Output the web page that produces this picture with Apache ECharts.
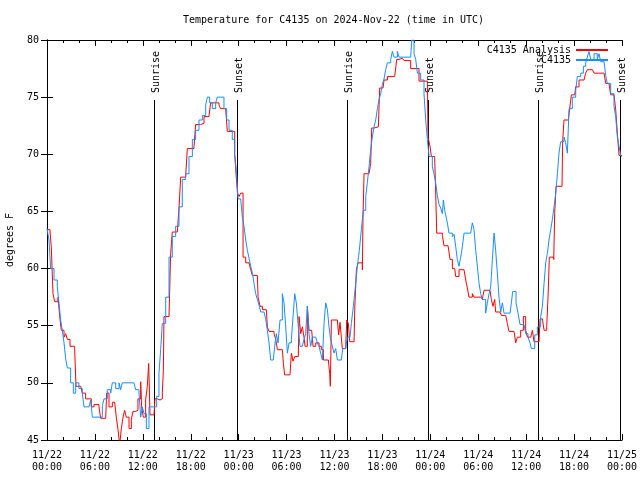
<!DOCTYPE html>
<html><head><meta charset="utf-8">
<script src="https://cdn.jsdelivr.net/npm/echarts@6/dist/echarts.min.js"></script>
<style>html,body{margin:0;padding:0;background:#fff}#c{width:640px;height:480px}</style>
</head><body><div id="c"></div>
<script>
// x tick labels every 6 hours from 2024-11-22 00:00 UTC
const xTickLabels = ["11/22\n00:00","11/22\n06:00","11/22\n12:00","11/22\n18:00",
  "11/23\n00:00","11/23\n06:00","11/23\n12:00","11/23\n18:00",
  "11/24\n00:00","11/24\n06:00","11/24\n12:00","11/24\n18:00","11/25\n00:00"];

// sunrise / sunset (hours after 11/22 00:00 UTC)
const sunEventHours = [13.44, 23.75, 37.52, 47.71, 61.53, 71.75];
const sunEventLabels = ["Sunrise","Sunset","Sunrise","Sunset","Sunrise","Sunset"];

// [hours after 11/22 00:00, degrees F]
const analysisData = [
[0,63.4],[0.38,63.2],[0.54,61.9],[0.75,57.8],[0.96,57.1],[1.21,57.1],[1.38,57.5],[1.59,55.8],[1.79,54.6],[2.13,54],[2.34,54.3],[2.55,53.8],[2.88,53.2],[3.46,53],[3.63,49.7],[4.22,49.7],[4.42,49.1],[4.84,48.6],[5.26,48.6],[5.55,47.9],[5.88,48.1],[6.51,47.9],[6.72,46.9],[7.35,47],[7.47,49.1],[7.76,47.9],[8.18,48.3],[8.47,48.2],[8.68,47],[8.89,45.9],[9.1,44.6],[9.31,46],[9.52,47],[9.72,47.6],[9.93,47],[10.27,46],[10.56,46.8],[10.77,47.5],[11.1,47.6],[11.39,48.6],[11.73,50.1],[11.85,47.9],[12.06,47],[12.35,48.5],[12.56,49.7],[12.73,51.7],[12.9,47.2],[13.4,47.2],[13.52,48.6],[13.81,48.5],[14.15,48.6],[14.44,49.1],[14.57,51.1],[14.65,55.8],[15.28,55.9],[15.48,61.3],[15.69,63.2],[16.32,63.2],[16.53,65.3],[16.74,68],[17.36,68],[17.57,70.5],[18.41,70.7],[18.61,72.6],[19.24,72.7],[19.66,73.3],[20.28,73.3],[20.49,74.5],[21.54,74.3],[21.74,74],[22.37,73.9],[22.58,72],[23.2,72],[23.5,70],[23.75,67.5],
[23.85,66.6],[24.05,66.3],[24.25,66.6],[24.46,66.6],[24.55,61],[24.88,60.5],[25.3,60.4],[25.51,59.9],[25.72,59.4],[26.34,59.4],[26.43,57.5],[26.68,56.7],[26.97,56.4],[27.47,56.4],[27.59,54.9],[27.8,54.5],[28.43,54.3],[28.64,53.8],[28.85,52.9],[29.47,52.9],[29.6,51.7],[29.76,50.7],[30.43,50.7],[30.6,52.6],[30.81,51.9],[31.02,52.3],[31.47,52.3],[31.56,55.8],[31.77,54.3],[31.98,54.9],[32.18,54],[32.31,53.2],[32.6,56.7],[32.81,54.6],[33.14,54.6],[33.31,53.2],[33.65,53.5],[34.06,53.2],[34.35,52.9],[34.61,52],[35.23,52],[35.4,50.8],[35.48,49.7],[35.61,55.5],[36.36,55.5],[36.52,54.2],[36.69,55.3],[36.9,55.3],[36.98,53],[37.4,53],[37.53,55.5],[37.74,55.2],[37.9,53.6],[38.45,53.5],[38.53,56.4],[38.74,59.9],[38.95,60.5],[39.49,59.9],[39.57,64.5],[39.7,68.3],[40.32,68.3],[40.53,69.2],[40.66,72.3],[40.95,72.4],[41.49,72.4],[41.66,75.8],[42.08,75.8],[42.2,76.5],[42.62,76.8],[43.54,76.7],[43.79,78.3],[44.08,78.4],[44.5,78.5],[44.71,78.2],[45.54,77.5],[46.29,77.5],[46.58,76.4],
[47.63,76.4],[47.71,71.5],[47.96,70.7],[48.13,69.8],[48.55,69.6],[48.67,66.7],[48.8,63.1],[49.51,62.9],[49.71,62],[50.22,61.9],[50.47,60.8],[50.76,60],[51.05,60],[51.18,59.3],[51.59,59.9],[52.22,59.9],[52.43,59],[52.64,58.3],[52.84,57.5],[53.26,57.8],[53.47,57.5],[54.31,57.5],[54.51,57.3],[54.72,58.1],[55.47,58.1],[55.64,57.3],[55.85,56.7],[56.06,57.3],[56.18,56.2],[56.73,56.2],[56.89,55.9],[57.44,55.9],[57.64,55.2],[57.85,54.5],[58.48,54.5],[58.69,53.5],[58.9,54],[59.31,54.6],[59.65,55.8],[59.94,54.6],[60.15,54],[60.57,53.9],[60.78,54.6],[60.98,53.6],[61.61,53.6],[61.74,55.6],[62.03,55.7],[62.24,54.6],[62.57,54.9],[62.74,57.5],[62.9,61],[63.45,60.8],[63.57,64.8],[63.74,67.2],[64.49,67.2],[64.57,71.1],[64.74,73],[65.28,73],[65.45,74],[65.66,75.2],[66.08,75.2],[66.2,75.9],[66.62,76.5],[67.24,76.5],[67.45,77.1],[67.66,77.4],[68.29,77.3],[68.5,77.1],[69.75,77],[69.96,76.2],[70.37,76.1],[70.58,75.2],[71,75.1],[71.21,73.9],[71.42,71.8],[71.63,69.9],[71.92,69.8],[72,69.8]
];

const observedData = [
[0,63.5],[0.25,62.5],[0.46,60],[0.88,59],[1.29,58.4],[1.5,57],[1.71,55.5],[1.92,54.6],[2.13,53.5],[2.34,52.1],[2.55,51.3],[2.96,50],[3.3,49.1],[3.59,50],[4.0,49.5],[4.42,49.1],[4.63,47.9],[5.26,47.9],[5.47,48.5],[5.68,47],[6.51,47],[6.93,48],[7.14,48.6],[7.55,49.4],[7.97,49.1],[8.18,50],[8.6,49.5],[9.02,50],[9.22,49.4],[9.43,50],[10.89,50],[11.1,49.4],[11.52,49.1],[11.73,47],[11.94,47.9],[12.15,47.3],[12.44,46],[12.77,47.9],[13.4,47.9],[13.73,48.8],[14.02,50.8],[14.23,52.9],[14.44,55.2],[14.86,57.5],[15.28,61],[15.69,62.8],[16.11,63.7],[16.53,65.4],[16.94,67.8],[17.36,68.3],[17.78,69.8],[18.2,71.3],[18.61,72.1],[19.03,73],[19.45,73.4],[19.87,74.3],[20.08,75],[20.37,74.5],[20.7,74],[21.12,74.5],[21.33,75],[21.74,75],[22.16,74],[22.5,73],[22.79,72.1],[23.2,71.3],[23.5,70],[23.75,68.3],
[23.84,67.2],[23.92,66.1],[24.25,66],[24.46,64.5],[24.67,63.7],[24.88,62.5],[25.09,61.6],[25.3,60.9],[25.51,60.2],[25.72,59.6],[25.92,58.7],[26.13,57.8],[26.34,57.3],[26.55,56.8],[26.76,56.2],[27.18,56.2],[27.38,55.6],[27.59,54.6],[27.8,53.5],[28.01,52],[28.34,52],[28.51,53.2],[28.72,54.3],[28.93,53.5],[29.18,55.5],[29.47,57.8],[29.68,57],[29.89,54.9],[30.1,52.6],[30.31,53.5],[30.6,53.8],[30.81,55.8],[31.02,57.8],[31.22,57],[31.43,55.2],[31.68,53.2],[31.98,53.2],[32.18,53.8],[32.39,54.3],[32.6,56.7],[32.81,54.3],[33.02,53.2],[33.23,54],[33.65,54],[33.85,53.5],[34.06,53.2],[34.27,52.6],[34.48,52],[34.69,55.2],[34.9,57],[35.11,56.4],[35.31,54.9],[35.52,53.8],[35.73,53.2],[35.94,52.6],[36.15,53],[36.36,52],[36.86,52],[37.03,53],[37.4,53],[37.61,54],[37.94,54],[38.11,55.2],[38.36,56.7],[38.61,58.4],[38.86,60.2],[39.11,61.6],[39.36,63.4],[39.61,65.1],[39.91,66.3],[40.11,67.5],[40.32,68.9],[40.53,70.4],[40.74,71.5],[40.95,72.4],[41.16,73],[41.37,74],[41.58,74.8],[41.78,75.3],[41.99,76.1],[42.2,76.6],[42.41,77.4],[42.62,78],[43.04,78.3],[43.25,79],[43.45,78.5],[43.87,79],[44.08,78.5],[45.54,78.5],[45.67,80],[45.96,78.8],[46.17,78.3],[46.38,77.1],[46.79,76.5],[47.21,75.3],
[47.42,73],[47.63,71.3],[47.84,69.8],[48.04,69.8],[48.25,68.9],[48.46,68.3],[48.67,67.5],[48.88,66.4],[49.09,65.6],[49.3,65.3],[49.51,64.8],[49.63,66],[49.8,65.1],[49.92,64.7],[50.13,64],[50.34,63.1],[50.76,62.8],[50.97,63],[51.18,61.9],[51.38,60.8],[51.59,60.2],[51.8,61],[52.01,61.9],[52.22,63.1],[53.05,63.1],[53.26,64],[53.47,63.4],[53.68,61.6],[53.89,60.2],[54.1,58.7],[54.31,57.8],[54.51,57.3],[54.72,57.3],[54.93,56.1],[55.14,57],[55.35,57.8],[55.56,58.4],[55.77,60.8],[55.98,63.1],[56.18,61.6],[56.39,59.6],[56.6,57.5],[56.81,56.2],[57.02,57],[57.23,56.1],[57.98,56.1],[58.15,57],[58.31,58],[58.56,58],[58.73,57],[58.98,56.1],[59.23,55.1],[59.73,55.1],[59.94,54.3],[60.23,54],[60.48,53.5],[60.65,53],[60.86,53],[61.07,54.2],[61.4,54.9],[61.61,54.9],[61.82,55.8],[62.03,56.7],[62.24,58.7],[62.45,60.5],[62.65,61.3],[62.86,62.5],[63.07,63.4],[63.28,64.3],[63.49,65.4],[63.7,66.6],[63.91,68.3],[64.11,70.1],[64.32,71.1],[64.53,71.1],[64.74,71.5],[64.95,71],[65.16,70.1],[65.37,74],[65.78,75],[66.2,75.6],[66.41,76.8],[66.83,77.1],[67.16,77.7],[67.45,78],[67.66,78.5],[67.87,79],[68.08,78.3],[68.5,78.8],[68.91,78.3],[69.12,78.8],[69.33,78.1],[69.75,78.1],[69.96,76.9],[70.16,76.2],[70.58,75.3],[71,74.2],[71.21,73.3],[71.42,71.5],[71.63,70.7],[71.84,69.9],[72,69.9]
];

const FONT = "'DejaVu Sans Mono', monospace";
const chart = echarts.init(document.getElementById('c'), null, {renderer: 'canvas'});

const tickCommon = {
  axisLine: {show: true, lineStyle: {color: '#000', width: 1}},
  axisTick: {show: true, inside: true, length: 6, lineStyle: {color: '#000'}},
  splitLine: {show: false}
};

const option = {
  animation: false,
  backgroundColor: '#fff',
  title: {
    text: 'Temperature for C4135 on 2024-Nov-22 (time in UTC)',
    left: 183, top: 15, padding: 0,
    textStyle: {fontFamily: FONT, fontSize: 10, fontWeight: 'normal', color: '#000'}
  },
  legend: {
    data: ['C4135 Analysis', 'C4135'],
    orient: 'vertical', align: 'right',
    right: 31, top: 45, padding: 0,
    itemWidth: 32, itemHeight: 12, itemGap: 0,
    itemStyle: {opacity: 0},
    textStyle: {fontFamily: FONT, fontSize: 10, color: '#000'}
  },
  grid: {left: 47, right: 18, top: 40, bottom: 40, containLabel: false, outerBoundsMode: 'none'},
  xAxis: [
    Object.assign({
      type: 'value', min: 0, max: 72, interval: 6, position: 'bottom',
      minorTick: {show: true, splitNumber: 3, length: 3, lineStyle: {color: '#000'}},
      axisLabel: {
        margin: 9, fontFamily: FONT, fontSize: 10, color: '#000', lineHeight: 12,
        formatter: v => xTickLabels[Math.round(v / 6)]
      }
    }, tickCommon),
    Object.assign({
      type: 'value', min: 0, max: 72, interval: 6, position: 'top',
      minorTick: {show: true, splitNumber: 3, length: 3, lineStyle: {color: '#000'}},
      axisLabel: {show: false}
    }, tickCommon)
  ],
  yAxis: [
    Object.assign({
      type: 'value', min: 45, max: 80, interval: 5, position: 'left',
      name: 'degrees F', nameLocation: 'middle', nameGap: 32,
      nameTextStyle: {fontFamily: FONT, fontSize: 10, color: '#000'},
      axisLabel: {margin: 8, fontFamily: FONT, fontSize: 10, color: '#000'}
    }, tickCommon),
    Object.assign({
      type: 'value', min: 45, max: 80, interval: 5, position: 'right',
      axisLabel: {show: false}
    }, tickCommon)
  ],
  series: [
    {
      type: 'custom', name: 'sun', xAxisIndex: 0, yAxisIndex: 0, z: 1,
      data: sunEventHours.map(h => [h, 45]),
      renderItem: function (params, api) {
        const h = api.value(0);
        const p0 = api.coord([h, 45]);
        const p1 = api.coord([h, 45 + 0.85 * 35]);
        const x = Math.round(p0[0]) + 0.5;
        return {
          type: 'group',
          children: [
            {type: 'line', shape: {x1: x, y1: p0[1], x2: x, y2: p1[1]},
             style: {stroke: '#000', lineWidth: 1}},
            {type: 'text', x: x + 1.5, y: p1[1] - 7, rotation: Math.PI / 2,
             style: {text: sunEventLabels[params.dataIndex], font: '10px ' + FONT,
                     fill: '#000', align: 'left', verticalAlign: 'middle'}}
          ]
        };
      }
    },
    {
      name: 'C4135 Analysis', type: 'line', step: 'end', data: analysisData,
      showSymbol: false, symbol: 'none', z: 2,
      lineStyle: {color: '#ff0000', width: 1}, itemStyle: {color: '#ff0000'}
    },
    {
      name: 'C4135', type: 'line', step: 'end', data: observedData,
      showSymbol: false, symbol: 'none', z: 3,
      lineStyle: {color: '#1a8cff', width: 1}, itemStyle: {color: '#1a8cff'}
    }
  ]
};
chart.setOption(option);
</script>
</body></html>
